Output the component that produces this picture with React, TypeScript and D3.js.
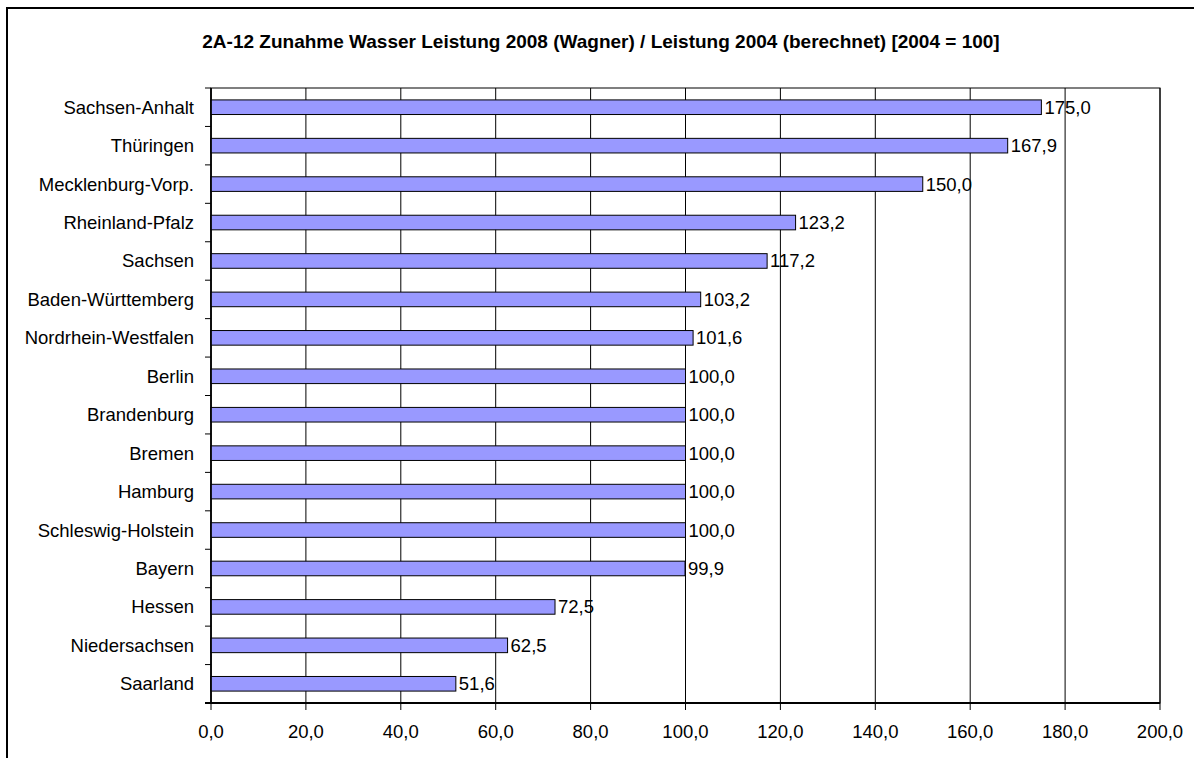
import React from "react";
import * as d3 from "d3";

const categories = [
  "Sachsen-Anhalt", "Thüringen", "Mecklenburg-Vorp.", "Rheinland-Pfalz", "Sachsen",
  "Baden-Württemberg", "Nordrhein-Westfalen", "Berlin", "Brandenburg", "Bremen",
  "Hamburg", "Schleswig-Holstein", "Bayern", "Hessen", "Niedersachsen", "Saarland",
];
const values = [175.0, 167.9, 150.0, 123.2, 117.2, 103.2, 101.6, 100.0, 100.0, 100.0, 100.0, 100.0, 99.9, 72.5, 62.5, 51.6];
const xTicks = [0, 20, 40, 60, 80, 100, 120, 140, 160, 180, 200];
const title = "2A-12 Zunahme Wasser Leistung 2008 (Wagner) / Leistung 2004 (berechnet) [2004 = 100]";

const W = 1194, H = 758;
const left = 211, right = 1160, top = 88, bottom = 703;
const font = "Arial, 'Liberation Sans', sans-serif";
const fmt = (v: number) => v.toFixed(1).replace(".", ",");

export default function App() {
  const x = d3.scaleLinear().domain([0, 200]).range([left, right]);
  const y = d3.scaleBand<string>().domain(categories).range([top, bottom]).paddingInner(0.62).paddingOuter(0.31);
  const band = (bottom - top) / categories.length;
  return (
    <svg width={W} height={H} style={{ position: "absolute", left: 0, top: 0, background: "#fff" }}>
      <rect x={7} y={8} width={1300} height={900} fill="#fff" stroke="#000" strokeWidth={2} />
      <text x={601} y={48} textAnchor="middle" fontFamily={font} fontWeight="bold" fontSize={19}>{title}</text>
      {/* plot area border */}
      <rect x={left} y={top} width={right - left} height={bottom - top} fill="#fff" stroke="#000" strokeWidth={1} />
      {xTicks.map((t) => (
        <line key={"g" + t} x1={x(t)} x2={x(t)} y1={top} y2={bottom + 7} stroke="#000" strokeWidth={1} />
      ))}
      {categories.map((c, i) => (
        <rect key={"b" + c} x={x(0)} y={y(c)!} width={x(values[i]) - x(0)} height={y.bandwidth()} fill="#9999FF" stroke="#000" strokeWidth={1} />
      ))}
      {d3.range(categories.length + 1).map((i) => (
        <line key={"yt" + i} x1={left - 6} x2={left} y1={top + i * band} y2={top + i * band} stroke="#000" strokeWidth={1} />
      ))}
      <line x1={left} x2={left} y1={top} y2={bottom} stroke="#000" strokeWidth={1.5} />
      <line x1={left - 6} x2={right} y1={bottom} y2={bottom} stroke="#000" strokeWidth={2} />
      {categories.map((c) => (
        <text key={"l" + c} x={194} y={y(c)! + y.bandwidth() / 2} dy="0.35em" textAnchor="end" fontFamily={font} fontSize={18.5}>{c}</text>
      ))}
      {categories.map((c, i) => (
        <text key={"v" + c} x={x(values[i]) + 3} y={y(c)! + y.bandwidth() / 2} dy="0.35em" fontFamily={font} fontSize={18.5}>{fmt(values[i])}</text>
      ))}
      {xTicks.map((t) => (
        <text key={"xt" + t} x={x(t)} y={732} dy="0.35em" textAnchor="middle" fontFamily={font} fontSize={18.5}>{fmt(t)}</text>
      ))}
    </svg>
  );
}
